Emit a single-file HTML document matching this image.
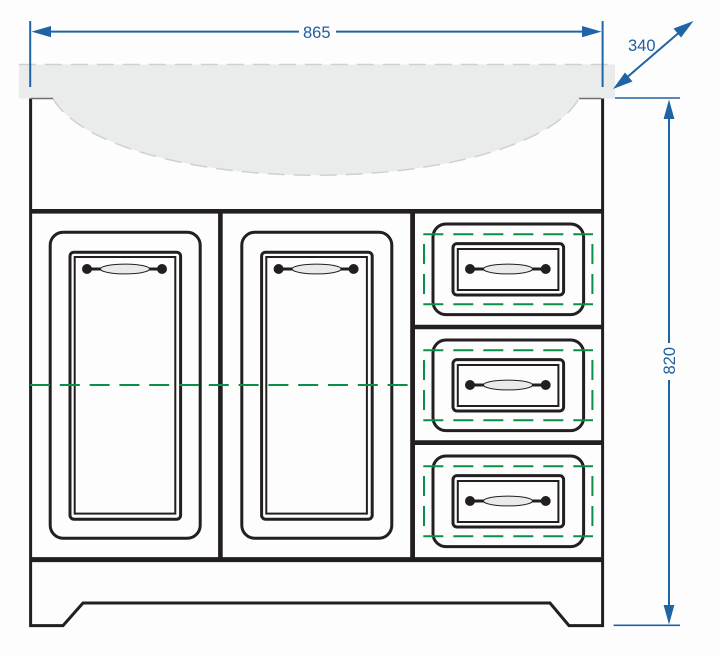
<!DOCTYPE html>
<html>
<head>
<meta charset="utf-8">
<style>
html,body{margin:0;padding:0;background:#fdfdfd;}
svg{display:block;}
text{font-family:"Liberation Sans",sans-serif;font-size:16.5px;fill:#1f5f9e;}
</style>
</head>
<body>
<svg width="720" height="656" viewBox="0 0 720 656" xmlns="http://www.w3.org/2000/svg">
<defs>
  <g id="door" fill="none" stroke="#231f20">
    <rect x="50.2" y="232.2" width="150" height="306" rx="13" stroke-width="3"/>
    <rect x="70" y="252.2" width="110.6" height="267" rx="4" stroke-width="3"/>
    <rect x="74.7" y="257" width="100.6" height="256.6" stroke-width="2"/>
    <path d="M87 269H162" stroke-width="3"/>
    <ellipse cx="125" cy="269" rx="24.5" ry="4.9" fill="#e9ebea" stroke-width="1"/>
    <circle cx="87" cy="269" r="5" fill="#231f20" stroke="none"/>
    <circle cx="162" cy="269" r="5" fill="#231f20" stroke="none"/>
  </g>
  <g id="drawer">
    <g fill="none" stroke="#231f20">
      <rect x="433" y="224" width="150.6" height="90.6" rx="13" stroke-width="3"/>
      <rect x="453" y="243.6" width="110.6" height="51.4" rx="4" stroke-width="3"/>
      <rect x="457.8" y="249" width="100.6" height="41" stroke-width="2"/>
      <path d="M470 269H545.7" stroke-width="3"/>
      <ellipse cx="508" cy="269" rx="24.5" ry="4.9" fill="#e9ebea" stroke-width="1"/>
      <circle cx="470" cy="269" r="5" fill="#231f20" stroke="none"/>
      <circle cx="545.7" cy="269" r="5" fill="#231f20" stroke="none"/>
    </g>
    <g fill="none" stroke="#0a8f47" stroke-width="2" stroke-dasharray="20 10">
      <path d="M423.3 234.2H593"/>
      <path d="M423.3 304.2H593"/>
      <path d="M424 244V296"/>
      <path d="M592.4 244V296"/>
    </g>
  </g>
</defs>

<!-- basin -->
<path d="M18.8 64.5H615V98.5H579A268 95 0 0 1 53 98.5H18.8Z" fill="#eaebeb"/>
<path d="M18.8 64.5H615" fill="none" stroke="#cfd0d0" stroke-width="1.5" stroke-dasharray="17 9"/>
<path d="M53 98.5A268 95 0 0 0 579 98.5" fill="none" stroke="#cfd0d0" stroke-width="1.5" stroke-dasharray="17 9"/>

<!-- cabinet -->
<g fill="none" stroke="#231f20">
  <path d="M30.6 98.5V625.6H63L83 603H550L569 625.6H602.6V98.5" stroke-width="3"/>
  <path d="M30 211.3H603" stroke-width="4.6"/>
  <path d="M30 559.6H603" stroke-width="5"/>
  <path d="M220.4 211V559" stroke-width="4.6"/>
  <path d="M412.6 211V559" stroke-width="4.8"/>
  <path d="M412 327H603" stroke-width="4.6"/>
  <path d="M412 442.6H603" stroke-width="4.8"/>
</g>
<path d="M31 98.5H53M579 98.5H601" stroke="#6f6f6f" stroke-width="1.5"/>

<use href="#door"/>
<use href="#door" transform="translate(191.6 0)"/>
<use href="#drawer"/>
<use href="#drawer" transform="translate(0 116)"/>
<use href="#drawer" transform="translate(0 232)"/>

<path d="M30 385H408" fill="none" stroke="#0a8f47" stroke-width="2" stroke-dasharray="20 9.8"/>

<!-- dimensions -->
<g stroke="#1f65a6" stroke-width="2" fill="none">
  <path d="M30.2 21V87"/>
  <path d="M602.6 21V87"/>
  <path d="M50 31.6H299"/>
  <path d="M336 31.6H583"/>
  <path d="M615 98H680" stroke-width="1.6"/>
  <path d="M613.5 625.3H680" stroke-width="1.6"/>
  <path d="M669 118V343"/>
  <path d="M669 380V606"/>
  <path d="M628 76.5L678 33.5"/>
</g>
<g fill="#1f65a6">
  <path d="M31.5 31.6L51 26V37.2Z"/>
  <path d="M601.5 31.6L582 26V37.2Z"/>
  <path d="M669 99.5L663.6 119H674.4Z"/>
  <path d="M669 624.5L663.6 605H674.4Z"/>
  <path d="M613 89L632.5 81.5L625 72.5Z"/>
  <path d="M693.5 21L681 37.5L673.5 28.5Z"/>
</g>
<text x="303" y="38">865</text>
<text x="628" y="51">340</text>
<text transform="translate(675 374.5) rotate(-90)">820</text>
</svg>
</body>
</html>
